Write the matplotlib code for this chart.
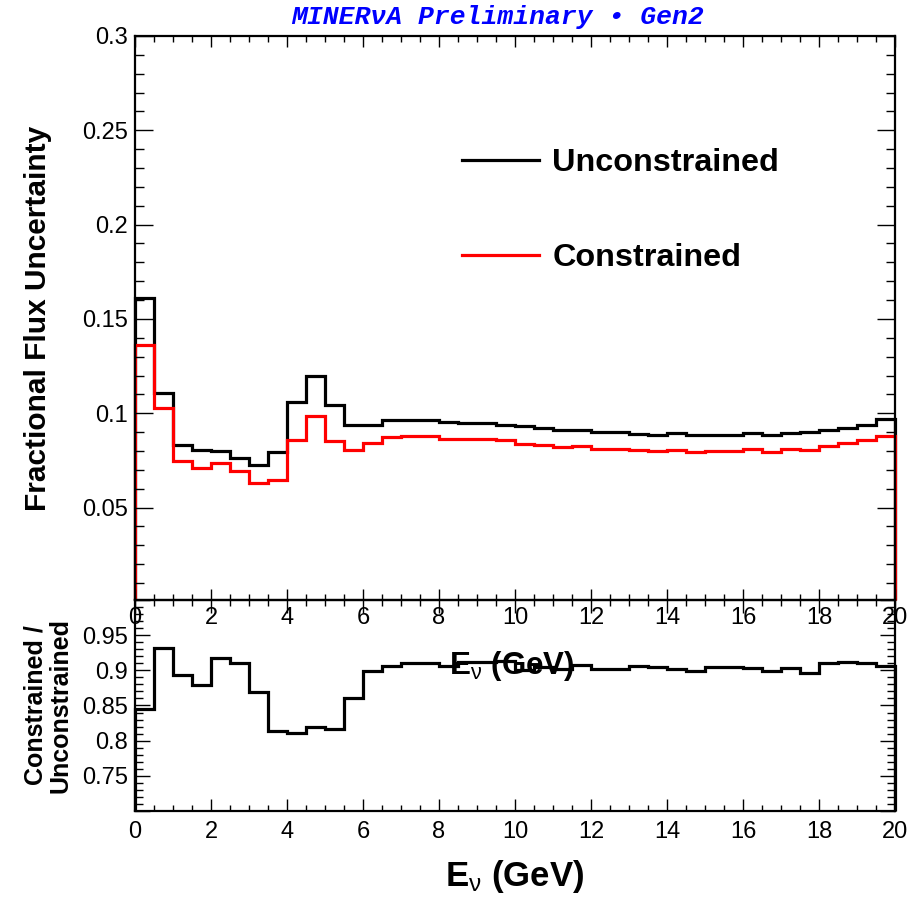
import numpy as np
import matplotlib
matplotlib.use("Agg")
import matplotlib.pyplot as plt
from matplotlib.ticker import MultipleLocator


# bin edges in neutrino energy (GeV)
energy_edges = np.linspace(0, 20, 41)

# fractional flux uncertainty per bin
unconstrained = [0.161, 0.1105, 0.0834, 0.0807, 0.0800, 0.0763, 0.0726, 0.0793,
                 0.1060, 0.1200, 0.1043, 0.0936, 0.0936, 0.0963, 0.0963, 0.0963,
                 0.0955, 0.0950, 0.0950, 0.0940, 0.0930, 0.0920, 0.0909, 0.0909,
                 0.0902, 0.0902, 0.0891, 0.0886, 0.0893, 0.0886, 0.0886, 0.0886,
                 0.0895, 0.0886, 0.0896, 0.0900, 0.0909, 0.0922, 0.0940, 0.0970]
constrained = [0.136, 0.1030, 0.0745, 0.0709, 0.0734, 0.0695, 0.0631, 0.0645,
               0.0859, 0.0984, 0.0852, 0.0806, 0.0841, 0.0873, 0.0877, 0.0877,
               0.0866, 0.0866, 0.0866, 0.0859, 0.0838, 0.0833, 0.0820, 0.0825,
               0.0813, 0.0813, 0.0807, 0.0802, 0.0805, 0.0797, 0.0802, 0.0802,
               0.0809, 0.0797, 0.0809, 0.0806, 0.0827, 0.0841, 0.0856, 0.0879]

series_labels = ["Unconstrained", "Constrained"]
series_colors = ["black", "#ff0000"]

ratio = np.array(constrained) / np.array(unconstrained)

plt.rcParams['font.family'] = ['Liberation Sans', 'DejaVu Sans']
plt.rcParams['mathtext.fontset'] = 'custom'
plt.rcParams['mathtext.rm'] = 'Liberation Sans'
plt.rcParams['mathtext.it'] = 'Liberation Sans:italic'
plt.rcParams['mathtext.bf'] = 'Liberation Sans:bold'

W, H = 923, 898
fig = plt.figure(figsize=(W / 100, H / 100), dpi=100)

def box(l, t, r, b):
    return [l / W, 1 - b / H, (r - l) / W, (b - t) / H]

# ratio pad first, so the top pad's tick labels sit over it
ax2 = fig.add_axes(box(135, 600, 895, 811))
ax1 = fig.add_axes(box(135, 36, 895, 600))
ax1.patch.set_alpha(0)

ylo1, yhi1 = 0.001, 0.3
ylo2, yhi2 = 0.7, 1.0

for vals, lab, col in zip([unconstrained, constrained], series_labels, series_colors):
    ax1.stairs(vals, energy_edges, baseline=ylo1, color=col, lw=2.3,
               label=lab, clip_on=False)
ax2.stairs(ratio, energy_edges, baseline=ylo2, color="black", lw=2.3, clip_on=False)

ax1.set_xlim(0, 20)
ax1.set_ylim(ylo1, yhi1)
ax2.set_xlim(0, 20)
ax2.set_ylim(ylo2, yhi2)

ax1.yaxis.set_major_locator(MultipleLocator(0.05))
ax1.yaxis.set_minor_locator(MultipleLocator(0.01))
ax2.yaxis.set_major_locator(MultipleLocator(0.05))
ax2.yaxis.set_minor_locator(MultipleLocator(0.01))
for ax in (ax1, ax2):
    ax.xaxis.set_major_locator(MultipleLocator(2))
    ax.xaxis.set_minor_locator(MultipleLocator(0.5))
    ax.tick_params(which='both', direction='in', top=True, right=True,
                   labelsize=17, width=1.0)
    for s in ax.spines.values():
        s.set_linewidth(1.6)

ax1.tick_params(axis='x', which='major', length=8, pad=5)
ax1.tick_params(axis='x', which='minor', length=4)
ax1.tick_params(axis='y', which='major', length=13, pad=5)
ax1.tick_params(axis='y', which='minor', length=6.5)
ax2.tick_params(axis='x', which='major', length=9, pad=7)
ax2.tick_params(axis='x', which='minor', length=4.5)
ax2.tick_params(axis='y', which='major', length=11, pad=5)
ax2.tick_params(axis='y', which='minor', length=5.5)

ax1.yaxis.set_major_formatter(lambda v, p: f"{v:g}")
ax2.yaxis.set_major_formatter(lambda v, p: f"{v:g}" if 0.72 < v < 0.99 else "")

ax1.set_ylabel("Fractional Flux Uncertainty", fontsize=21.5, fontweight='bold',
               labelpad=22)
ax2.set_ylabel("Constrained /\nUnconstrained", fontsize=18, fontweight='bold',
               labelpad=7, linespacing=1.05)
ax2.set_xlabel(r"E$_{\mathrm{\nu}}$ (GeV)", fontsize=25, fontweight='bold',
               labelpad=11)
fig.text(512 / W, 1 - 666 / H, r"E$_{\mathrm{\nu}}$ (GeV)", fontsize=22.5,
         fontweight='bold', ha='center', va='center')

ax1.legend(loc='upper left', bbox_to_anchor=(0.43, 0.801), frameon=False,
           handlelength=2.4, handletextpad=0.4,
           labelspacing=2.0, borderpad=0, borderaxespad=0,
           prop={'weight': 'bold', 'size': 23.3})

fig.text(497 / W, 1 - 17 / H, "MINERνA Preliminary • Gen2", color="#0000ff",
         fontsize=19, family='Liberation Mono', fontweight='bold',
         style='italic', ha='center', va='center')

fig.savefig("out.png", dpi=100)
